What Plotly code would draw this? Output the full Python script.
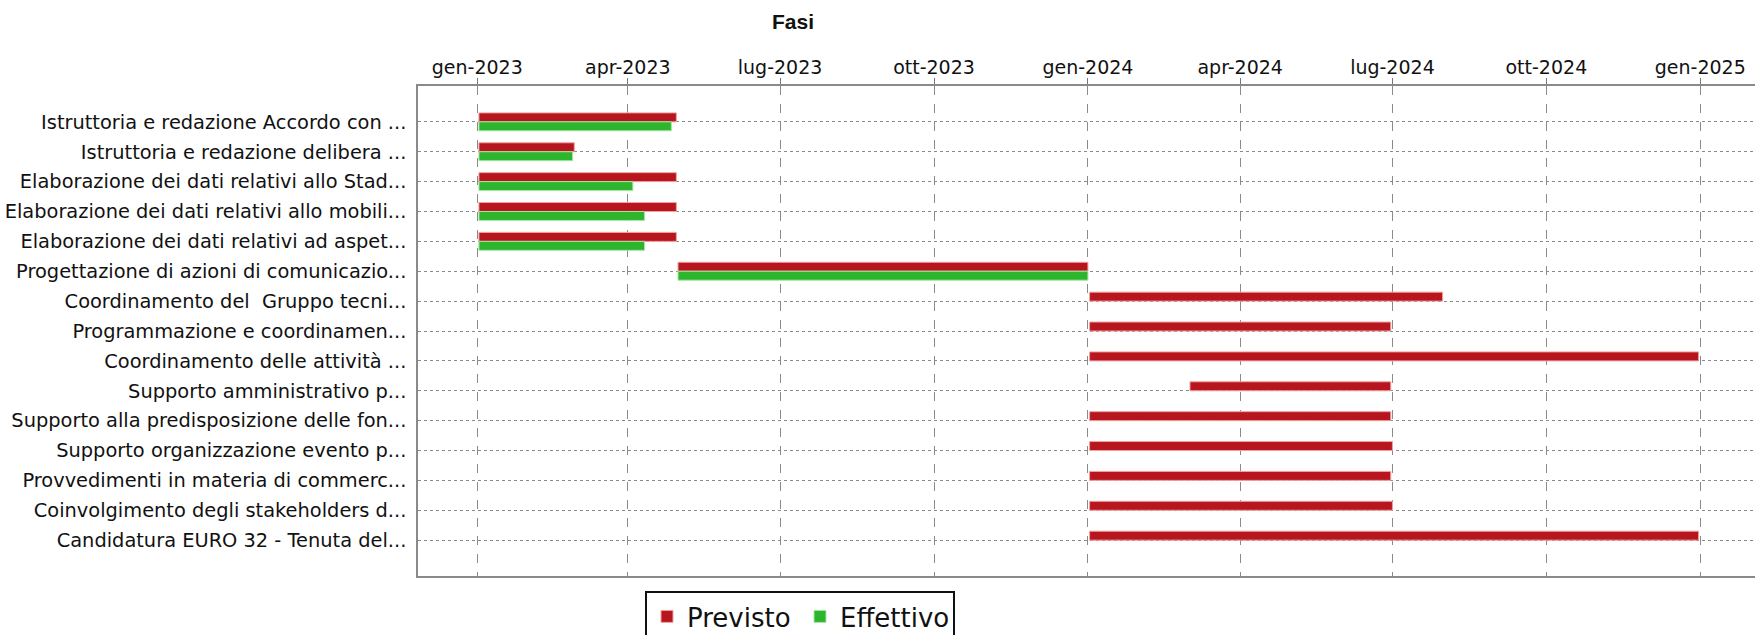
import pandas as pd
import plotly.graph_objects as go

tasks = [
    "Istruttoria e redazione Accordo con ...",
    "Istruttoria e redazione delibera ...",
    "Elaborazione dei dati relativi allo Stad...",
    "Elaborazione dei dati relativi allo mobili...",
    "Elaborazione dei dati relativi ad aspet...",
    "Progettazione di azioni di comunicazio...",
    "Coordinamento del  Gruppo tecni...",
    "Programmazione e coordinamen...",
    "Coordinamento delle attività ...",
    "Supporto amministrativo p...",
    "Supporto alla predisposizione delle fon...",
    "Supporto organizzazione evento p...",
    "Provvedimenti in materia di commerc...",
    "Coinvolgimento degli stakeholders d...",
    "Candidatura EURO 32 - Tenuta del...",
]

planned_start = ["2023-01-02", "2023-01-02", "2023-01-02", "2023-01-02", "2023-01-02",
                 "2023-05-01", "2024-01-02", "2024-01-02", "2024-01-02", "2024-03-02",
                 "2024-01-02", "2024-01-02", "2024-01-02", "2024-01-02", "2024-01-02"]
planned_end = ["2023-04-30", "2023-02-28", "2023-04-30", "2023-04-30", "2023-04-30",
               "2024-01-01", "2024-07-31", "2024-06-30", "2024-12-31", "2024-06-30",
               "2024-06-30", "2024-07-01", "2024-06-30", "2024-07-01", "2024-12-31"]

actual_start = ["2023-01-02", "2023-01-02", "2023-01-02", "2023-01-02", "2023-01-02",
                "2023-05-01", None, None, None, None, None, None, None, None, None]
actual_end = ["2023-04-27", "2023-02-27", "2023-04-04", "2023-04-11", "2023-04-11",
              "2024-01-01", None, None, None, None, None, None, None, None, None]

tick_dates = ["2023-01-01", "2023-04-01", "2023-07-01", "2023-10-01", "2024-01-01",
              "2024-04-01", "2024-07-01", "2024-10-01", "2025-01-01"]
tick_labels = ["gen-2023", "apr-2023", "lug-2023", "ott-2023", "gen-2024",
               "apr-2024", "lug-2024", "ott-2024", "gen-2025"]

series_names = ["Previsto", "Effettivo"]


def durations(starts, ends):
    out = []
    for s, e in zip(starts, ends):
        if s is None or e is None:
            out.append(None)
        else:
            out.append((pd.Timestamp(e) - pd.Timestamp(s)).total_seconds() * 1000)
    return out


FONT = "DejaVu Sans"

fig = go.Figure()
fig.add_trace(go.Bar(
    name=series_names[0], y=tasks, x=durations(planned_start, planned_end),
    base=planned_start, orientation="h",
    marker=dict(color="#B8161E", line=dict(color="#F2A0A0", width=1)),
    hoverinfo="skip",
))
fig.add_trace(go.Bar(
    name=series_names[1], y=tasks, x=durations(actual_start, actual_end),
    base=actual_start, orientation="h",
    marker=dict(color="#2DB52D", line=dict(color="#A6E6A6", width=1)),
    hoverinfo="skip",
))

fig.update_layout(
    width=1755, height=635,
    margin=dict(l=418, r=0, t=86, b=59, autoexpand=False),
    paper_bgcolor="white", plot_bgcolor="white",
    barmode="group", bargap=0.4, bargroupgap=0.0,
    font=dict(family=FONT, size=18, color="#111111"),
    title=dict(text="<b>Fasi</b>", x=793 / 1755, xref="container", xanchor="center",
               y=1 - 22 / 635, yref="container", yanchor="middle",
               font=dict(family="Liberation Sans", size=21, color="#111111")),
    showlegend=True,
    legend=dict(orientation="h", x=(645 - 418) / 1337, xanchor="left",
                y=-15 / 490, yanchor="top",
                bordercolor="#111111", borderwidth=2,
                font=dict(family=FONT, size=26, color="#111111"),
                itemwidth=30, entrywidth=108, entrywidthmode="pixels",
                tracegroupgap=0, traceorder="normal"),
    xaxis=dict(
        type="date", side="top", automargin=False,
        range=["2022-11-26 14:00", "2025-02-02 17:00"],
        tickvals=tick_dates, ticktext=tick_labels,
        ticks="outside", ticklen=2, tickcolor="#777777",
        minor=dict(tickvals=tick_dates, ticks="outside", ticklen=6,
                   tickcolor="#777777", showgrid=False),
        tickfont=dict(family=FONT, size=19, color="#111111"),
        showgrid=True, gridcolor="#8A8A8A", griddash="dash", gridwidth=1,
        showline=True, linecolor="#8A8A8A", linewidth=2, mirror=True,
        zeroline=False,
    ),
    yaxis=dict(
        type="category", categoryorder="array", categoryarray=tasks,
        range=[14 + 1.2, -1.2], automargin=False,
        ticks="", ticklabelstandoff=6,
        tickfont=dict(family=FONT, size=19.4, color="#111111"),
        showgrid=True, gridcolor="#8A8A8A", griddash="3px,3px", gridwidth=1,
        showline=True, linecolor="#8A8A8A", linewidth=1.5,
        zeroline=False,
    ),
)

fig.write_html(
    "out.html",
    config={"displayModeBar": False},
    post_script="document.body.style.margin='0px';document.body.style.overflow='hidden';",
)
